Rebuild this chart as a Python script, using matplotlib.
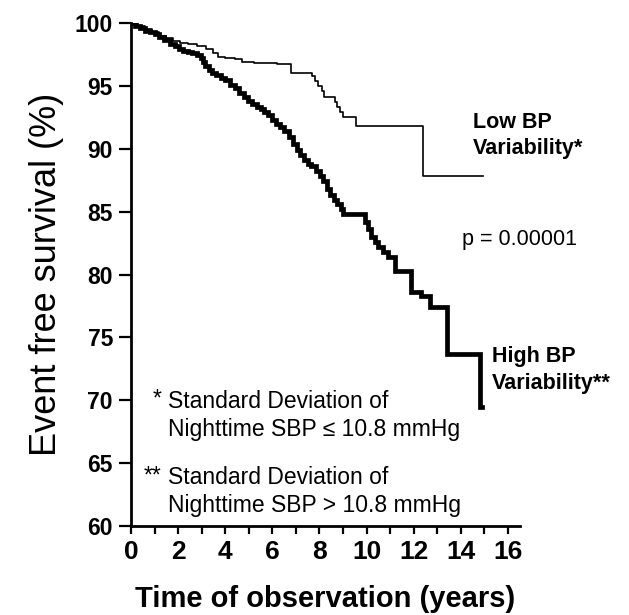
import matplotlib
matplotlib.use('Agg')
import matplotlib.pyplot as plt

plt.rcParams['font.family'] = ['Liberation Sans', 'DejaVu Sans']

# Kaplan-Meier steps (years, % event free)
low_t = [0, 0.3, 0.6, 0.9, 1.2, 1.5, 1.8, 2.1, 2.4, 2.8, 3.2, 3.5, 3.7, 4.0, 4.4,
         4.7, 5.2, 5.6, 6.2, 6.8, 7.7, 7.8, 7.95, 8.1, 8.2, 8.65, 8.75, 8.85,
         9.0, 9.55, 12.4, 14.95]
low_v = [100, 99.8, 99.5, 99.3, 99.0, 98.8, 98.6, 98.4, 98.3, 98.2, 97.9, 97.6,
         97.3, 97.2, 97.1, 96.9, 96.85, 96.8, 96.75, 96.05, 95.8, 95.4, 95.0,
         94.6, 94.1, 93.7, 93.3, 92.9, 92.5, 91.8, 87.8, 87.8]

high_t = [0, 0.17, 0.38, 0.6, 0.8, 1.0, 1.2, 1.4, 1.66, 1.85, 2.05, 2.22, 2.4, 2.6,
          2.79, 2.95, 3.05, 3.14, 3.3, 3.45, 3.6, 3.8, 3.99, 4.2, 4.41, 4.6, 4.8,
          4.95, 5.15, 5.35, 5.5, 5.65, 5.8, 6.0, 6.15, 6.32, 6.5, 6.7, 6.89, 7.05,
          7.17, 7.35, 7.5, 7.65, 7.85, 8.02, 8.15, 8.3, 8.45, 8.6, 8.75, 8.9, 9.01,
          9.93, 10.07, 10.2, 10.35, 10.5, 10.71, 10.9, 11.2, 11.88, 12.3, 12.7,
          13.43, 14.82, 14.9]
high_v = [100, 99.8, 99.6, 99.4, 99.25, 99.1, 98.9, 98.65, 98.35, 98.15, 97.95, 97.8,
          97.7, 97.6, 97.45, 97.2, 96.9, 96.6, 96.3, 96.05, 95.85, 95.65, 95.45,
          95.1, 94.8, 94.45, 94.1, 93.8, 93.55, 93.35, 93.2, 92.95, 92.65, 92.3,
          92.0, 91.75, 91.4, 90.9, 90.4, 89.9, 89.5, 89.1, 88.8, 88.6, 88.2, 87.85,
          87.4, 86.8, 86.3, 85.9, 85.6, 85.2, 84.8, 84.2, 83.6, 83.0, 82.6, 82.2,
          81.8, 81.4, 80.3, 78.6, 78.3, 77.4, 73.7, 69.5, 69.5]

x_ticks = list(range(0, 17, 2))
y_ticks = list(range(60, 101, 5))

fig = plt.figure(figsize=(6.29, 6.15), dpi=100)
ax = fig.add_axes([0.2083, 0.1447, 0.618, 0.8179])

ax.step(low_t, low_v, where='post', color='black', linewidth=1.2)
ax.step(high_t, high_v, where='post', color='black', linewidth=3.4,
        solid_joinstyle='miter')

ax.set_xlim(0, 16.5)
ax.set_ylim(60, 100)
ax.set_xticks(x_ticks)
ax.set_xticks(range(0, 17), minor=True)
ax.set_yticks(y_ticks)

for side in ['top', 'right']:
    ax.spines[side].set_visible(False)
for side in ['left', 'bottom']:
    ax.spines[side].set_linewidth(2)

ax.tick_params(axis='y', which='major', length=9, width=1.6, labelsize=16.5, pad=4)
ax.tick_params(axis='x', which='both', length=6, width=1.6, labelsize=19, pad=4)
for lbl in ax.get_xticklabels() + ax.get_yticklabels():
    lbl.set_fontweight('bold')

ax.set_ylabel('Event free survival (%)', fontsize=26, labelpad=8)
ax.set_xlabel('Time of observation (years)', fontsize=21, fontweight='bold', labelpad=15)

ax.text(14.5, 91.05, 'Low BP\nVariability*', fontsize=15.5, fontweight='bold',
        ha='left', va='center', linespacing=1.35)
ax.text(14.05, 82.8, 'p = 0.00001', fontsize=15.5, ha='left', va='center')
ax.text(15.32, 72.4, 'High BP\nVariability**', fontsize=15.5, fontweight='bold',
        ha='left', va='center', linespacing=1.35)

ax.text(1.55, 68.8, 'Standard Deviation of\nNighttime SBP \u2264 10.8 mmHg', fontsize=16.5,
        ha='left', va='center', linespacing=1.25)
ax.text(1.3, 70.1, '*', fontsize=16.5, ha='right', va='center')
ax.text(1.55, 62.75, 'Standard Deviation of\nNighttime SBP > 10.8 mmHg', fontsize=16.5,
        ha='left', va='center', linespacing=1.25)
ax.text(1.3, 64.0, '**', fontsize=16.5, ha='right', va='center')

fig.savefig('out.png', dpi=100)
